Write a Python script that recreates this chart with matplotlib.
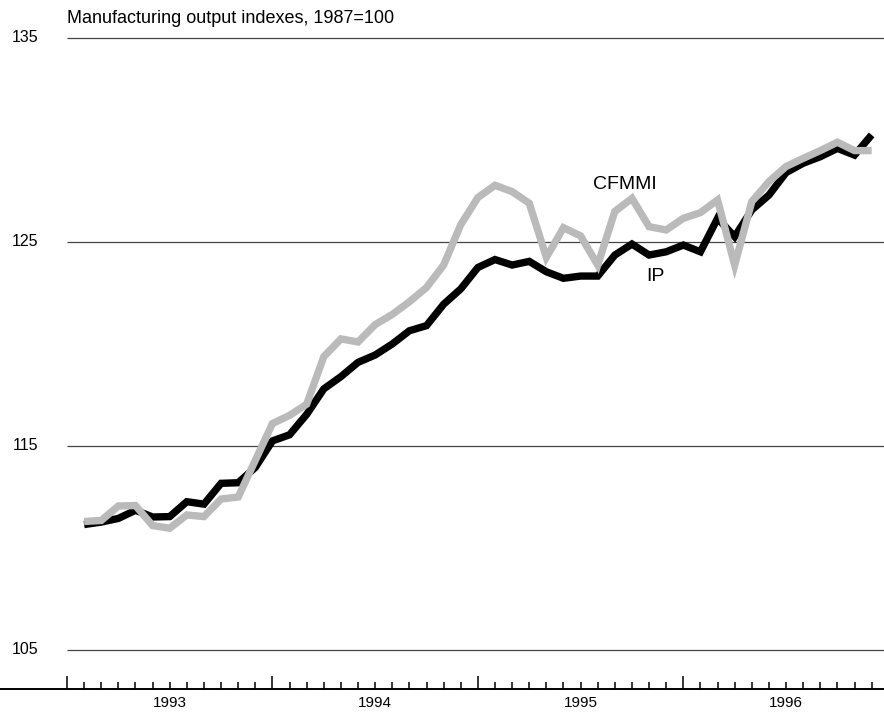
import matplotlib
matplotlib.use("Agg")
import matplotlib.pyplot as plt
import matplotlib.transforms as mtransforms
import pandas as pd

plt.rcParams['font.family'] = ['Liberation Sans', 'DejaVu Sans']

# ---- data ----
start_month = "1993-02"
end_month = "1996-12"
ip = [111.15, 111.27, 111.45, 111.85, 111.52, 111.54, 112.27, 112.15, 113.17, 113.2,
      113.95, 115.25, 115.55, 116.55, 117.8, 118.4, 119.1, 119.46, 120.0, 120.65,
      120.9, 121.95, 122.7, 123.75, 124.14, 123.87, 124.05, 123.54, 123.22, 123.33,
      123.33, 124.36, 124.9, 124.36, 124.52, 124.85, 124.52, 126.16, 125.26, 126.57,
      127.3, 128.4, 128.86, 129.18, 129.59, 129.26, 130.25]
cfmmi = [111.3, 111.35, 112.06, 112.08, 111.1, 110.97, 111.62, 111.54, 112.4, 112.5,
         114.3, 116.1, 116.5, 117.05, 119.38, 120.25, 120.1, 120.95, 121.45, 122.07,
         122.77, 123.87, 125.85, 127.18, 127.78, 127.47, 126.9, 124.25, 125.7, 125.3,
         123.87, 126.5, 127.14, 125.75, 125.59, 126.16, 126.44, 127.06, 123.87, 126.98,
         127.96, 128.7, 129.1, 129.48, 129.89, 129.48, 129.48]
years = [1993, 1994, 1995, 1996]
yticks = [105, 115, 125, 135]
title = "Manufacturing output indexes, 1987=100"
series_labels = ["CFMMI", "IP"]

periods = pd.period_range(start_month, end_month, freq="M")
x = [(p.year - years[0]) * 12 + (p.month - 1) for p in periods]

W, H, DPI = 884, 715, 100
fig = plt.figure(figsize=(W / DPI, H / DPI), dpi=DPI)
ax = fig.add_axes([0, 26 / H, 1, 1 - 26 / H])

px_per_month = 17.12
x0_px = 67
ax.set_xlim(-x0_px / px_per_month, (W - x0_px) / px_per_month)
px_per_unit = 20.4
y135 = 38
ax.set_ylim(135 - (689 - y135) / px_per_unit, 135 + y135 / px_per_unit)

for s in ['top', 'right', 'left']:
    ax.spines[s].set_visible(False)
ax.spines['bottom'].set_linewidth(1.4)
ax.spines['bottom'].set_color('black')

# gridlines
ax.hlines(yticks, 0, ax.get_xlim()[1], color='#444444', lw=0.9, zorder=1)

# lines
ax.plot(x, ip, color='black', lw=5.3, solid_capstyle='butt', solid_joinstyle='miter', zorder=3)
ax.plot(x, cfmmi, color='#bababa', lw=5.3, solid_capstyle='butt', solid_joinstyle='miter', zorder=4)

# ticks
nmonths = len(years) * 12
ax.set_xticks([12 * i for i in range(len(years))])
ax.set_xticks(list(range(nmonths)), minor=True)
ax.tick_params(axis='x', which='major', direction='in', length=9.5, width=1.1, labelbottom=False)
ax.tick_params(axis='x', which='minor', direction='in', length=4.8, width=1.1, labelbottom=False)
ax.set_yticks([])

# year labels
trans = mtransforms.blended_transform_factory(ax.transData, ax.transAxes)
for i, yr in enumerate(years):
    ax.annotate(str(yr), xy=(12 * i + 6, 0), xycoords=trans, xytext=(0, -10),
                textcoords='offset points', ha='center', va='center', fontsize=11)

# y labels
for v in yticks:
    ytrans = mtransforms.blended_transform_factory(fig.transFigure, ax.transData)
    ax.text(38 / W, v, str(v), transform=ytrans, ha='right', va='center', fontsize=11.5)

# title
fig.text(x0_px / W, 1 - 23 / H, title, ha='left', va='baseline', fontsize=13)

# series labels
ax.text(32.56, 127.8, series_labels[0], ha='center', va='center', fontsize=14)
ax.text(34.35, 123.3, series_labels[1], ha='center', va='center', fontsize=14)

fig.savefig("out.png", dpi=DPI)
